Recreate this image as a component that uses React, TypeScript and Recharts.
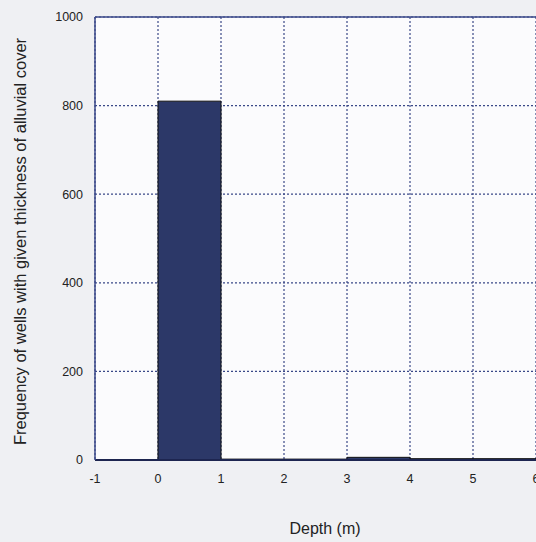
import {
  Bar,
  CartesianGrid,
  ComposedChart,
  Label,
  ReferenceLine,
  XAxis,
  YAxis,
} from "recharts";

// bin centres (m) and counts
const binCentres = [0.5, 1.5, 2.5, 3.5, 4.5, 5.5, 6.5];
const wellCounts = [810, 2, 2, 6, 3, 3, 3];
const depthTicks = [-1, 0, 1, 2, 3, 4, 5, 6, 7];
const countTicks = [0, 200, 400, 600, 800, 1000];

const data = binCentres.map((depth, i) => ({ depth, count: wellCounts[i] }));

const frame = "#3a4888";
const font = "'Liberation Sans', Arial, sans-serif";

export default function App() {
  return (
    <div
      style={{
        position: "fixed",
        left: 0,
        top: 0,
        width: 536,
        height: 542,
        overflow: "hidden",
        background: "#eff0f3",
        fontFamily: font,
      }}
    >
      <ComposedChart
        width={620}
        height={542}
        data={data}
        barCategoryGap={0}
        barGap={0}
        margin={{ top: 17, right: 21, bottom: 0, left: 0 }}
      >
        <CartesianGrid
          stroke={frame}
          strokeDasharray="2 2"
          strokeWidth={1.2}
          fill="#fbfbfd"
          verticalValues={depthTicks}
          horizontalValues={countTicks}
        />
        <XAxis
          dataKey="depth"
          type="number"
          domain={[-1, 7]}
          ticks={depthTicks}
          allowDataOverflow
          height={82}
          tickSize={0}
          tickMargin={14}
          axisLine={{ stroke: "#1d2550", strokeWidth: 2 }}
          tick={{ fill: "#222", fontSize: 12.5, fontFamily: font }}
        >
          <Label
            value="Depth (m)"
            position="insideBottom"
            offset={8}
            dx={-22}
            style={{ fill: "#222", fontSize: 16, fontFamily: font }}
          />
        </XAxis>
        <YAxis
          type="number"
          domain={[0, 1000]}
          ticks={countTicks}
          width={95}
          tickSize={0}
          tickMargin={12}
          axisLine={{ stroke: frame, strokeWidth: 1.5 }}
          tick={{ fill: "#222", fontSize: 12.5, fontFamily: font }}
        >
          <Label
            value="Frequency of wells with given thickness of alluvial cover"
            angle={-90}
            position="insideLeft"
            offset={20}
            dy={3}
            style={{ textAnchor: "middle", fill: "#222", fontSize: 16.5, fontFamily: font }}
          />
        </YAxis>
        <ReferenceLine y={1000} stroke={frame} strokeWidth={1.5} />
        <Bar
          dataKey="count"
          fill="#2c3868"
          stroke="#111"
          strokeWidth={1}
          isAnimationActive={false}
        />
      </ComposedChart>
    </div>
  );
}
